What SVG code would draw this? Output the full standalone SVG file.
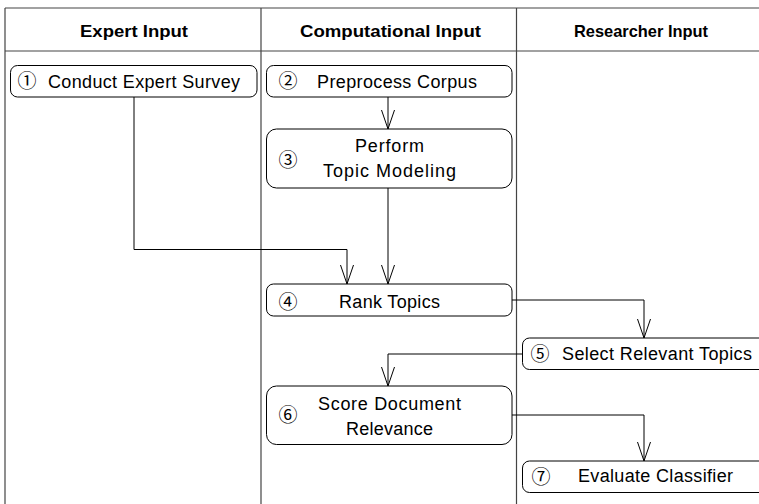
<svg xmlns="http://www.w3.org/2000/svg" width="759" height="504" viewBox="0 0 759 504">
<defs>
<style>
.frame{stroke:#444;stroke-width:1.2;fill:none}
.node{fill:#fff;stroke:#000;stroke-width:1}
.hd{font-family:"Liberation Sans",Arial,sans-serif;font-weight:bold;font-size:17px;fill:#000}
.tx{font-family:"Liberation Sans",Arial,sans-serif;font-size:18px;fill:#000}
.num{font-family:"Noto Sans CJK JP","Noto Sans CJK SC","DejaVu Sans",sans-serif;font-size:19px;fill:#000;text-anchor:middle}
.edge{fill:none;stroke:#000;stroke-width:1}
</style>
<marker id="arr" markerUnits="userSpaceOnUse" markerWidth="22" markerHeight="16" viewBox="-21 -8 22 16" refX="0" refY="0" orient="auto">
<path d="M-19,-6.5 L0,0 L-19,6.5" fill="none" stroke="#000" stroke-width="1"/>
</marker>
</defs>
<rect width="759" height="504" fill="#fff"/>
<g id="frame">
<line class="frame" x1="5" y1="8" x2="759" y2="8"/>
<line class="frame" x1="5" y1="51" x2="759" y2="51"/>
<line class="frame" x1="5" y1="8" x2="5" y2="504"/>
<line class="frame" x1="261" y1="8" x2="261" y2="504"/>
<line class="frame" x1="516.5" y1="8" x2="516.5" y2="504"/>
<text class="hd" x="80" y="37" textLength="108" lengthAdjust="spacingAndGlyphs">Expert Input</text>
<text class="hd" x="300" y="37" textLength="181" lengthAdjust="spacingAndGlyphs">Computational Input</text>
<text class="hd" x="574" y="37" textLength="134" lengthAdjust="spacingAndGlyphs">Researcher Input</text>
</g>
<g id="connectors">
<polyline class="edge" points="134,97 134,249.5 347,249.5 347,284" marker-end="url(#arr)"/>
<line class="edge" x1="388" y1="97" x2="388" y2="129" marker-end="url(#arr)"/>
<line class="edge" x1="388" y1="188" x2="388" y2="284" marker-end="url(#arr)"/>
<polyline class="edge" points="512,300 644,300 644,338" marker-end="url(#arr)"/>
<polyline class="edge" points="522,354 388,354 388,386" marker-end="url(#arr)"/>
<polyline class="edge" points="512,415 644,415 644,461" marker-end="url(#arr)"/>
</g>
<g id="n1">
<rect class="node" x="10.5" y="65.5" width="246.5" height="31.5" rx="7"/>
<text class="num" x="27" y="88">①</text>
<text class="tx" x="48" y="88.3" textLength="192" lengthAdjust="spacing">Conduct Expert Survey</text>
</g>
<g id="n2">
<rect class="node" x="266.5" y="65.5" width="245.5" height="31.5" rx="7"/>
<text class="num" x="288" y="88">②</text>
<text class="tx" x="317" y="88.3" textLength="160" lengthAdjust="spacing">Preprocess Corpus</text>
</g>
<g id="n3">
<rect class="node" x="266.5" y="129" width="245.5" height="59" rx="10"/>
<text class="num" x="288" y="167">③</text>
<text class="tx" x="355" y="152" textLength="69" lengthAdjust="spacing">Perform</text>
<text class="tx" x="323" y="176.7" textLength="133" lengthAdjust="spacing">Topic Modeling</text>
</g>
<g id="n4">
<rect class="node" x="266.5" y="284" width="245.5" height="32" rx="7"/>
<text class="num" x="288" y="308.5">④</text>
<text class="tx" x="339" y="307.7" textLength="101" lengthAdjust="spacing">Rank Topics</text>
</g>
<g id="n5">
<rect class="node" x="522.5" y="338" width="250" height="31.5" rx="7"/>
<text class="num" x="540" y="361">⑤</text>
<text class="tx" x="562" y="360" textLength="190" lengthAdjust="spacing">Select Relevant Topics</text>
</g>
<g id="n6">
<rect class="node" x="266.5" y="386" width="245.5" height="58.5" rx="10"/>
<text class="num" x="288" y="422">⑥</text>
<text class="tx" x="318" y="410" textLength="143" lengthAdjust="spacing">Score Document</text>
<text class="tx" x="346" y="435" textLength="87" lengthAdjust="spacing">Relevance</text>
</g>
<g id="n7">
<rect class="node" x="522.5" y="461" width="250" height="31.5" rx="7"/>
<text class="num" x="541" y="484">⑦</text>
<text class="tx" x="578" y="481.7" textLength="155" lengthAdjust="spacing">Evaluate Classifier</text>
</g>
</svg>
